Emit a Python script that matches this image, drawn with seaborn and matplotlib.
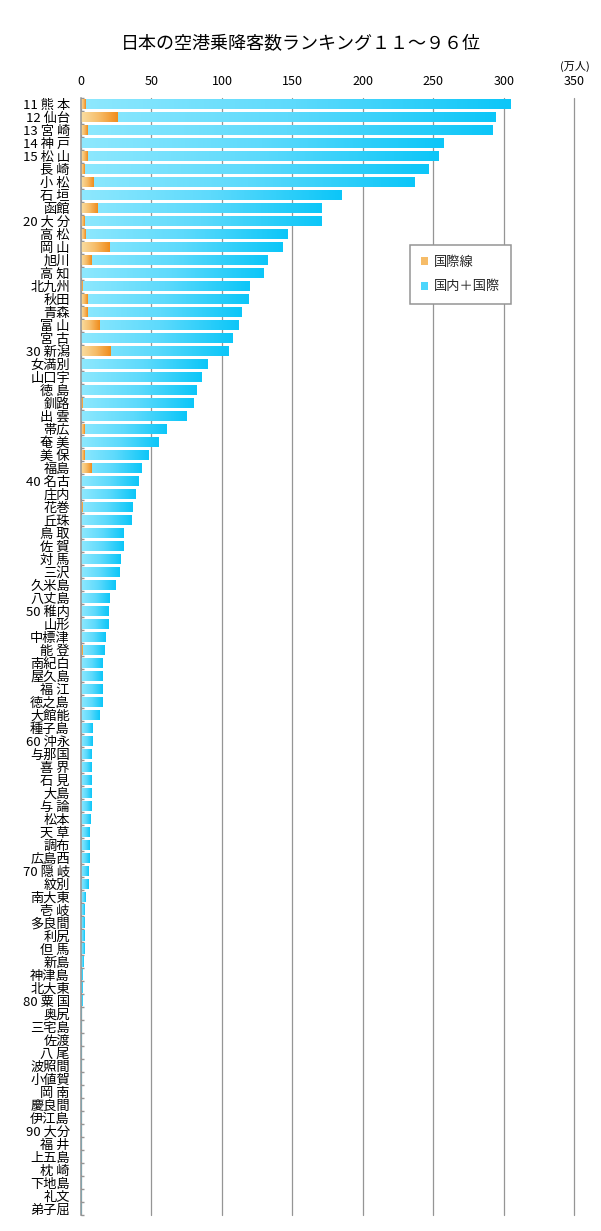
import numpy as np
import pandas as pd
import seaborn as sns
import matplotlib
matplotlib.use("Agg")
import matplotlib.pyplot as plt
from matplotlib.colors import LinearSegmentedColormap
from matplotlib.patches import Patch

airports = [
    "11 熊 本", "12 仙台", "13 宮 崎", "14 神 戸", "15 松 山", "長 崎", "小 松", "石 垣", "函館", "20 大 分",
    "高 松", "岡 山", "旭川", "高 知", "北九州", "秋田", "青森", "富 山", "宮 古", "30 新潟",
    "女満別", "山口宇", "徳 島", "釧路", "出 雲", "帯広", "奄 美", "美 保", "福島", "40 名古",
    "庄内", "花巻", "丘珠", "鳥 取", "佐 賀", "対 馬", "三沢", "久米島", "八丈島", "50 稚内",
    "山形", "中標津", "能 登", "南紀白", "屋久島", "福 江", "徳之島", "大館能", "種子島", "60 沖永",
    "与那国", "喜 界", "石 見", "大島", "与 論", "松本", "天 草", "調布", "広島西", "70 隠 岐",
    "紋別", "南大東", "壱 岐", "多良間", "利尻", "但 馬", "新島", "神津島", "北大東", "80 粟 国",
    "奥尻", "三宅島", "佐渡", "八 尾", "波照間", "小値賀", "岡 南", "慶良間", "伊江島", "90 大分",
    "福 井", "上五島", "枕 崎", "下地島", "礼文", "弟子屈",
]

total = [
    304.4, 294.4, 292.3, 257.5, 253.3, 246.9, 236.3, 184.5, 170.3, 170.3,
    146.2, 143.3, 132.0, 129.8, 119.9, 118.5, 114.2, 112.1, 107.8, 105.0,
    89.4, 85.8, 81.6, 79.5, 75.2, 61.0, 55.3, 48.2, 42.6, 41.1,
    39.0, 36.2, 35.5, 30.5, 29.8, 27.7, 27.0, 24.8, 19.9, 19.2,
    19.2, 17.7, 17.0, 15.6, 15.6, 14.9, 14.9, 12.8, 8.5, 8.5,
    7.8, 7.1, 7.1, 7.1, 7.1, 6.4, 5.7, 5.7, 5.7, 5.0,
    5.0, 3.5, 2.8, 2.8, 2.8, 2.8, 2.1, 1.4, 1.3, 1.1,
    0.3, 0.3, 0.2, 0.2, 0.2, 0.15, 0.15, 0.1, 0.1, 0.1,
    0.08, 0.08, 0.06, 0.05, 0.05, 0.04,
]

intl = [
    3.5, 26.2, 4.3, 0, 4.3, 2.8, 9.2, 0, 11.4, 2.8,
    3.5, 19.9, 7.8, 0, 1.2, 4.3, 4.3, 12.8, 0, 20.6,
    0, 0, 0, 1.3, 0, 2.8, 0, 2.8, 7.1, 0,
    0, 1.4, 0, 0, 0, 0, 0, 0, 0, 0,
    0, 0, 1.4, 0, 0, 0, 0, 0, 0, 0,
    0, 0, 0, 0, 0, 0, 0, 0, 0, 0,
    0, 0, 0, 0, 0, 0, 0, 0, 0, 0,
    0, 0, 0, 0, 0, 0, 0, 0, 0, 0,
    0, 0, 0, 0, 0, 0,
]

x_ticks = [0, 50, 100, 150, 200, 250, 300, 350]
title = "日本の空港乗降客数ランキング１１～９６位"
unit_label = "(万人)"
legend_labels = ["国際線", "国内＋国際"]

df = pd.DataFrame({"airport": airports, "total": total, "intl": intl})

sns.set_theme(style="white")
plt.rcParams["font.family"] = ["Noto Sans CJK JP", "DejaVu Sans"]

W, H = 601, 1231
fig = plt.figure(figsize=(W / 100, H / 100), dpi=100)
fig.patch.set_facecolor("white")
ax_left, ax_right, ax_top, ax_bottom = 81, 574.3, 97.7, 1215
ax = fig.add_axes([ax_left / W, 1 - ax_bottom / H, (ax_right - ax_left) / W, (ax_bottom - ax_top) / H])

blue_mid = "#3fd4fc"
orange_mid = "#f4b458"
sns.barplot(data=df, y="airport", x="total", color=blue_mid, width=0.8, saturation=1,
            orient="h", ax=ax, edgecolor="none", linewidth=0)
n_blue = len(ax.patches)
sns.barplot(data=df, y="airport", x="intl", color=orange_mid, width=0.8, saturation=1,
            orient="h", ax=ax, edgecolor="none", linewidth=0)

blue_cmap = LinearSegmentedColormap.from_list("b", ["#8ee8fe", "#5ddafc", "#0cc6f8"])
orange_cmap = LinearSegmentedColormap.from_list("o", ["#f9dea2", "#f6bc68", "#f08c1c"])
grad = np.linspace(0, 1, 256).reshape(1, -1)

for i, p in enumerate(ax.patches):
    w = p.get_width()
    if w <= 0:
        continue
    x0, y0 = p.get_x(), p.get_y()
    h = p.get_height()
    is_blue = i < n_blue
    p.set_zorder(2.0 if is_blue else 2.2)
    im = ax.imshow(grad, cmap=blue_cmap if is_blue else orange_cmap, aspect="auto",
                   extent=[x0, x0 + w, y0 + h, y0], interpolation="bilinear",
                   zorder=2.1 if is_blue else 2.3)
    im.set_clip_path(p)

ax.set_xlim(0, 350)
ax.set_ylim(len(airports) - 0.5, -0.5)
ax.set_xlabel("")
ax.set_ylabel("")

# grid & spines
ax.set_axisbelow(True)
ax.xaxis.grid(True, color="#959595", linewidth=0.9)
ax.yaxis.grid(False)
for s in ["top", "right", "bottom"]:
    ax.spines[s].set_visible(False)
ax.spines["left"].set_color("#959595")
ax.spines["left"].set_linewidth(1.1)
ax.spines["left"].set_zorder(3)

# x ticks on top
ax.xaxis.tick_top()
ax.set_xticks(x_ticks)
ax.set_xticklabels([str(v) for v in x_ticks], fontsize=9)
ax.tick_params(axis="x", length=0, pad=7, colors="black")
for gl in ax.get_xgridlines():
    gl.set_clip_on(False)

# y ticks: labels at centres, small inward marks at boundaries
ax.tick_params(axis="y", which="major", length=0, pad=8, labelsize=9.5, colors="black")
ax.set_yticks(np.arange(len(airports) + 1) - 0.5, minor=True)
ax.tick_params(axis="y", which="minor", direction="in", length=2.5, width=1.0, color="#959595", left=True)

fig.text(301 / W, 1 - 44 / H, title, ha="center", va="center", fontsize=13, color="black")
fig.text(575 / W, 1 - 66 / H, unit_label, ha="center", va="center", fontsize=8, color="black")

handles = [Patch(facecolor="#f6bc68", edgecolor="none"), Patch(facecolor="#4cd6fc", edgecolor="none")]
leg = ax.legend(handles, legend_labels, loc="upper left",
                bbox_to_anchor=(410 / W, 1 - 245 / H), bbox_transform=fig.transFigure,
                frameon=True, fancybox=False, edgecolor="#959595", framealpha=1,
                fontsize=9.5, handlelength=0.6, handleheight=0.6, handletextpad=0.4,
                labelspacing=0.9, borderpad=0.8, borderaxespad=0)
leg.get_frame().set_linewidth(1.1)
leg.set_zorder(5)

fig.savefig("out.png", dpi=100, facecolor="white")
